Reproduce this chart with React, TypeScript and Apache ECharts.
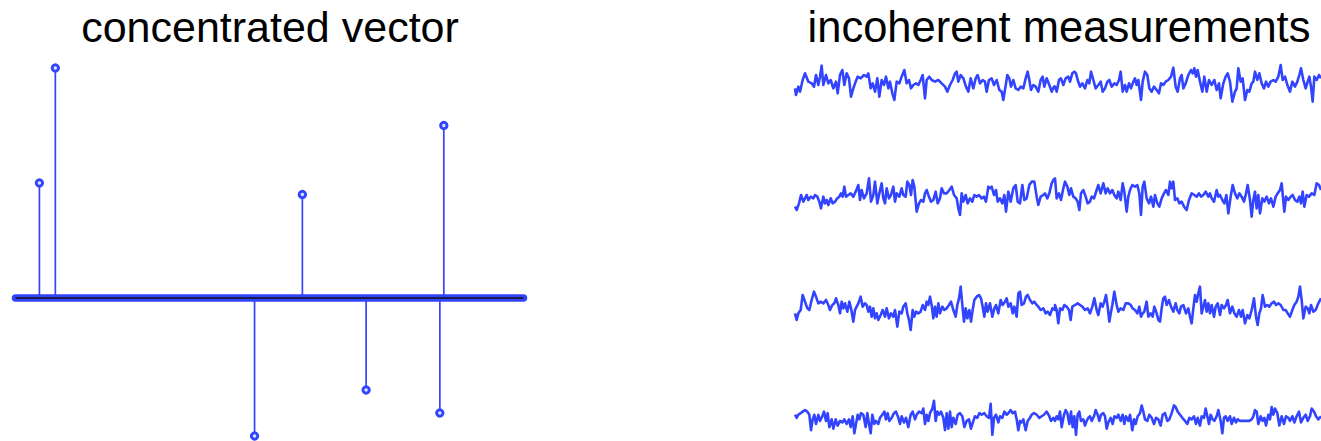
import React, { useEffect, useRef } from "react";
import * as echarts from "echarts";

// ---------- concentrated vector (sparse stem plot) ----------
const stemIndex = [12, 20, 120, 144, 176, 213, 215];
const stemValue = [0.5, 1.0, -0.6, 0.45, -0.4, -0.5, 0.75];
const vectorLength = 255;

// ---------- incoherent measurements ----------
// readings: [sample, depth] pairs (depth measured downward within each band);
// "L" = first half of the trace, "R" = second half (sample counted from the half's start)
const HALF_OFFSET = 795;
const sig1L = [15,100,18,120,25,95,30,110,38,75,45,55,55,80,65,85,72,95,78,60,85,90,90,65,95,32,100,90,108,60,115,85,122,75,130,100,138,80,143,115,150,60,157,45,163,90,170,55,177,70,183,125,190,100,197,80,203,65,212,70,222,60,230,65,235,55,242,100,248,85,255,110,262,70,268,125,275,75,282,90,288,65,295,100,300,80,307,115,313,135,320,80,328,85,335,65,343,45,350,85,357,75,363,100,370,90,378,85,385,90,392,75,398,60,405,130,410,75,418,65,425,75,435,80,445,75,455,85,465,95,472,110,480,90,488,75,495,55,500,50,505,80,512,60,520,70,528,95,535,110,542,70,550,100,557,70,563,60,570,85,578,75,585,80,590,110,597,75,605,70,612,90,620,75,628,105,635,110,640,135,648,85,652,60,658,70,663,95,670,75,677,100,685,105,692,95,700,100,707,70,713,50,718,75,723,105,730,90,737,95,745,110,752,75,758,65,763,95,770,70,778,90,785,110,792,95];
const sig1R = [0,95,5,110,12,75,18,70,25,90,32,70,40,65,45,80,52,55,58,50,63,55,68,75,75,95,82,85,90,100,97,75,103,85,108,50,115,75,122,100,130,90,137,80,143,110,150,100,157,80,163,75,170,95,178,85,185,90,192,75,197,50,203,110,210,90,215,110,222,85,228,100,235,80,240,70,245,90,250,75,258,135,263,80,270,50,277,60,283,100,290,110,297,95,305,105,312,115,318,85,325,90,332,80,340,75,348,65,355,38,362,95,368,110,375,70,380,60,385,100,392,85,400,60,408,45,413,55,418,40,423,65,428,45,435,80,442,110,448,65,455,110,462,75,470,90,478,75,485,105,492,85,497,130,505,85,512,65,518,55,525,80,532,140,540,110,545,100,550,40,557,80,563,70,570,135,577,105,583,110,590,85,595,80,600,50,607,75,613,55,620,85,627,100,633,80,640,95,647,80,655,75,662,80,670,65,677,30,683,75,690,65,697,90,705,110,712,80,720,95,727,80,733,60,738,40,745,75,752,100,758,80,763,65,768,95,773,140,778,65,785,75,792,60,798,70];

const sig2L = [15,110,20,120,27,100,33,75,40,95,45,85,50,75,55,90,62,80,70,85,75,75,82,80,88,95,93,115,100,80,105,100,110,90,115,105,122,85,128,100,135,95,142,85,148,80,153,70,158,80,163,50,168,80,175,75,182,70,190,80,197,65,205,45,210,90,215,60,222,85,230,70,237,25,243,95,250,75,255,35,262,100,268,70,275,40,280,85,285,100,290,55,297,85,303,75,310,50,315,95,320,70,328,80,335,55,340,75,347,80,352,35,358,45,363,75,368,30,373,50,380,125,387,100,393,90,400,95,405,70,410,60,415,75,423,95,430,90,437,65,443,100,450,85,455,55,462,70,470,70,478,60,485,50,492,75,500,85,505,115,510,135,515,70,520,95,527,75,533,100,540,85,547,95,553,75,560,80,567,75,575,85,582,80,588,95,595,50,600,55,605,50,612,75,618,60,623,95,630,85,637,100,643,75,648,125,655,65,662,95,670,55,677,45,683,95,690,100,697,45,703,90,710,85,718,45,725,35,733,35,740,80,745,105,752,80,760,75,765,70,772,85,778,70,785,40,790,30];
const sig2R = [0,25,5,85,12,70,18,90,25,55,30,35,37,50,43,75,48,55,55,80,62,85,68,95,73,120,78,70,85,60,92,80,98,100,105,95,110,80,117,85,125,60,130,45,137,70,145,40,152,70,158,55,165,70,172,60,178,75,185,85,190,65,197,90,203,40,208,65,215,125,220,80,225,60,232,45,240,50,247,45,253,70,258,135,263,50,268,35,275,85,282,100,288,80,295,110,300,75,307,100,313,110,320,85,327,70,333,60,340,75,345,35,350,55,355,35,360,90,367,85,373,100,380,95,387,110,395,120,402,90,410,70,418,75,425,80,432,70,438,80,445,75,452,65,460,80,465,70,470,85,477,95,485,60,490,80,495,75,502,90,508,100,514,75,520,130,527,80,533,45,540,70,547,85,553,70,560,80,567,95,572,75,578,45,585,90,590,140,595,90,600,65,605,115,610,75,615,130,622,85,628,95,635,80,642,100,648,85,655,110,662,80,668,70,675,60,680,40,688,125,693,80,700,90,707,80,713,75,720,90,727,95,733,80,738,100,743,65,748,110,755,75,762,80,770,70,778,75,785,40,792,45,798,60];

const sig3L = [15,100,20,120,25,100,32,90,38,45,45,65,52,85,58,90,65,60,72,35,78,50,85,70,92,65,100,70,108,60,115,75,120,90,127,75,133,70,138,55,145,75,150,100,155,65,160,85,165,70,172,95,178,65,183,85,190,125,195,90,200,80,205,70,212,50,218,80,225,70,230,75,235,95,240,80,245,110,250,85,255,115,260,100,265,120,272,105,278,90,285,110,290,85,297,115,303,100,310,110,315,90,322,140,328,95,335,100,340,80,347,70,352,100,357,120,362,150,368,90,373,110,378,95,385,100,392,95,398,75,405,90,410,65,415,75,420,50,425,75,430,115,435,80,440,110,445,70,450,100,457,80,463,90,470,85,477,75,483,65,490,90,497,110,502,75,507,55,512,20,517,75,522,125,527,85,532,115,538,90,543,125,548,90,553,60,560,50,567,45,573,55,578,80,583,110,588,70,593,95,600,70,607,110,613,85,618,75,625,100,632,60,638,75,645,65,650,55,655,80,662,70,668,100,673,80,680,110,685,40,690,35,695,75,702,70,708,50,713,45,720,60,727,70,733,65,740,75,745,80,752,90,760,85,767,100,773,95,780,105,787,85,795,90];
const sig3R = [0,75,5,90,10,130,15,85,22,90,28,75,35,80,42,90,47,120,52,80,60,75,68,70,75,75,82,80,90,90,98,85,105,100,112,80,118,55,125,90,130,105,137,70,143,80,148,65,153,45,158,80,163,125,168,95,172,75,178,35,185,75,190,95,197,85,205,90,212,70,220,70,227,75,233,85,240,90,247,100,253,80,258,110,263,100,268,95,275,65,280,110,287,100,293,110,298,80,305,100,310,120,315,125,320,85,325,55,330,50,335,75,342,60,348,80,355,95,362,70,367,90,373,100,378,80,385,75,393,100,400,85,405,110,410,130,415,85,420,45,425,65,430,40,435,20,440,100,445,80,450,60,455,95,460,70,465,100,470,75,477,110,482,80,488,70,495,105,500,75,507,85,513,75,518,60,525,100,532,80,538,100,545,110,552,90,558,110,563,90,570,130,577,105,583,115,590,90,597,55,603,110,608,135,613,100,618,85,623,45,630,80,637,75,643,80,650,70,657,65,663,75,670,70,677,75,685,90,692,90,698,100,705,110,712,90,718,75,725,65,730,50,735,20,740,60,745,115,752,80,758,85,763,100,768,75,775,95,782,90,790,70,798,55];

const sig4L = [15,80,20,90,25,80,32,75,38,70,45,65,52,70,58,80,63,130,68,95,73,80,78,110,85,80,90,100,97,85,102,70,108,100,113,75,118,120,125,95,130,125,137,95,143,115,150,100,157,105,163,95,170,110,177,95,182,120,188,85,193,140,198,110,203,80,208,95,213,75,220,80,227,120,232,75,237,110,242,140,247,80,253,110,258,100,265,110,270,90,277,80,283,70,288,95,293,75,298,100,305,90,312,75,318,70,325,90,330,110,335,85,342,105,348,90,355,120,362,80,368,70,375,95,380,80,387,70,395,75,400,60,405,110,410,80,415,100,420,75,427,60,432,35,437,100,442,70,447,80,453,70,460,90,465,130,470,75,475,125,480,70,485,120,490,90,497,110,503,80,510,75,517,85,523,120,530,100,537,95,543,125,550,100,555,85,562,90,568,75,575,80,583,75,590,85,597,90,602,45,607,145,612,90,618,80,625,105,630,85,637,90,643,70,650,80,655,75,662,65,668,75,675,70,680,95,685,130,690,100,695,105,700,95,707,130,713,100,720,90,725,80,732,75,740,80,748,90,755,85,762,80,770,70,778,85,783,100,790,90];
const sig4R = [0,100,5,85,10,95,15,70,20,120,27,80,32,65,37,75,43,110,48,70,53,120,58,85,63,145,68,80,73,70,78,100,85,95,90,115,95,100,100,90,105,85,110,100,117,85,122,65,128,80,133,100,138,80,145,75,150,85,155,125,160,105,167,90,173,110,178,85,185,90,190,80,197,100,203,80,208,110,213,85,220,100,225,80,232,130,237,95,242,110,248,85,255,75,260,50,265,70,270,95,277,100,283,80,290,90,297,110,303,90,310,95,317,115,323,80,330,75,337,100,343,95,350,75,357,50,362,55,368,70,375,80,382,90,390,100,397,110,403,90,410,95,417,85,423,110,428,90,435,115,440,85,447,90,452,60,457,85,462,110,467,80,473,95,478,100,485,85,490,65,497,100,502,140,507,90,512,85,518,100,525,85,530,110,537,90,543,105,548,95,555,100,562,100,570,100,577,100,583,100,590,95,595,85,600,65,605,70,610,110,617,85,623,100,628,90,633,115,640,80,645,95,650,55,655,80,660,60,667,75,673,115,680,85,687,110,693,85,700,90,705,100,712,85,718,105,725,85,732,70,738,105,745,90,752,80,758,100,765,85,770,60,777,70,783,85,790,95,798,85];

const titles = ["concentrated vector", "incoherent measurements"];

const BLUE = "#3344ff";
const FONT = "'Liberation Sans', Arial, sans-serif";

function pairs(left: number[], right: number[]): number[][] {
  const out: number[][] = [];
  for (let i = 0; i < left.length; i += 2) out.push([left[i], left[i + 1]]);
  for (let i = 0; i < right.length; i += 2) out.push([right[i] + HALF_OFFSET, right[i + 1]]);
  return out;
}

export default function App() {
  const ref = useRef<HTMLDivElement>(null);
  useEffect(() => {
    if (!ref.current) return;
    const chart = echarts.init(ref.current, null, { renderer: "svg" });
    const signals = [pairs(sig1L, sig1R), pairs(sig2L, sig2R), pairs(sig3L, sig3R), pairs(sig4L, sig4R)];
    const bandTops = [55, 170, 280, 390];

    const grids: any[] = [{ left: 15.5, width: 508, top: 45, height: 395.6 }];
    const xAxes: any[] = [{ type: "value", gridIndex: 0, min: 0, max: vectorLength, show: false }];
    const yAxes: any[] = [{ type: "value", gridIndex: 0, min: -0.62, max: 1.1, show: false }];
    bandTops.forEach((t, i) => {
      grids.push({ left: 790, width: 531, top: t, height: 55 });
      xAxes.push({ type: "value", gridIndex: i + 1, min: 0, max: 1593, show: false });
      yAxes.push({ type: "value", gridIndex: i + 1, min: 0, max: 165, inverse: true, show: false });
    });

    const series: any[] = [
      {
        type: "custom",
        xAxisIndex: 0,
        yAxisIndex: 0,
        z: 2,
        data: stemIndex.map((x, i) => [x, stemValue[i]]),
        renderItem: (params: any, api: any) => {
          const x = api.value(0);
          const v = api.value(1);
          const p0 = api.coord([x, 0]);
          const p1 = api.coord([x, v]);
          return {
            type: "line",
            shape: { x1: p0[0], y1: p0[1], x2: p1[0], y2: p1[1] },
            style: { stroke: BLUE, lineWidth: 1.7 },
          };
        },
      },
      {
        type: "line",
        xAxisIndex: 0,
        yAxisIndex: 0,
        z: 3,
        symbol: "none",
        data: [[0, 0], [vectorLength, 0]],
        lineStyle: { color: BLUE, width: 7.5, cap: "round" },
      },
      {
        type: "line",
        xAxisIndex: 0,
        yAxisIndex: 0,
        z: 4,
        symbol: "none",
        data: [[0, 0], [vectorLength, 0]],
        lineStyle: { color: "#111111", width: 1.5 },
      },
      {
        type: "custom",
        xAxisIndex: 0,
        yAxisIndex: 0,
        z: 5,
        clip: false,
        data: stemIndex.map((x, i) => [x, stemValue[i]]),
        renderItem: (params: any, api: any) => {
          const p1 = api.coord([api.value(0), api.value(1)]);
          return {
            type: "circle",
            shape: { cx: p1[0], cy: p1[1], r: 3.2 },
            style: { fill: "#dfe3ff", stroke: BLUE, lineWidth: 3 },
          };
        },
      },
    ];
    signals.forEach((d, i) => {
      series.push({
        type: "line",
        xAxisIndex: i + 1,
        yAxisIndex: i + 1,
        symbol: "none",
        data: d,
        lineStyle: { color: BLUE, width: 2.6, join: "round" },
      });
    });

    chart.setOption({
      animation: false,
      backgroundColor: "#ffffff",
      grid: grids,
      xAxis: xAxes,
      yAxis: yAxes,
      series,
      graphic: [
        {
          type: "text",
          x: 270,
          y: 27,
          style: { text: titles[0], fill: "#000", font: `43px ${FONT}`, align: "center", verticalAlign: "middle" },
        },
        {
          type: "text",
          x: 1059,
          y: 27,
          style: { text: titles[1], fill: "#000", font: `43.5px ${FONT}`, align: "center", verticalAlign: "middle" },
        },
      ],
    });
    return () => chart.dispose();
  }, []);
  return <div ref={ref} style={{ position: "absolute", left: 0, top: 0, width: 1321, height: 441 }} />;
}
